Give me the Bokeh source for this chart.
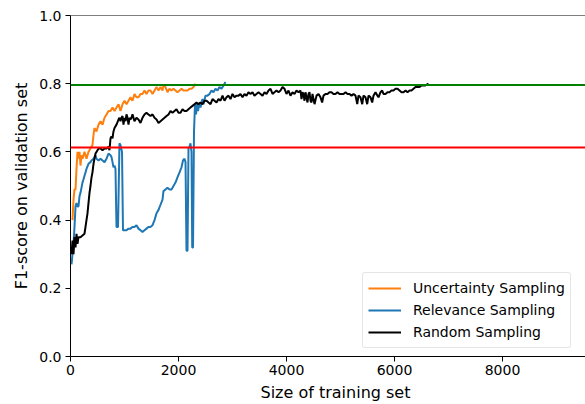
from bokeh.plotting import figure
from bokeh.models import Span, Legend, LegendItem, Range1d, FixedTicker, Title
from bokeh.embed import file_html
from bokeh.resources import INLINE

# Uncertainty sampling: training-set size vs. validation F1
unc_x = [37, 56, 74, 93, 111, 130, 148, 167, 185, 204, 222, 259, 296, 333, 370, 407,
         426, 444, 481, 519, 556, 593, 630, 667, 704, 741, 778, 815, 852, 889, 926, 963,
         1000, 1037, 1074, 1111, 1148, 1185, 1222, 1259, 1296, 1333, 1370, 1407, 1444,
         1481, 1519, 1556, 1593, 1630, 1667, 1704, 1722, 1759, 1796, 1833, 1870, 1907,
         1944, 1981, 2019, 2056, 2093, 2130, 2167, 2204, 2241, 2278, 2315]
unc_y = [0.40, 0.46, 0.49, 0.49, 0.55, 0.60, 0.58, 0.60, 0.56, 0.59, 0.58, 0.60, 0.58,
         0.60, 0.61, 0.62, 0.65, 0.67, 0.66, 0.68, 0.69, 0.68, 0.70, 0.71, 0.72, 0.72,
         0.73, 0.72, 0.73, 0.74, 0.72, 0.74, 0.75, 0.74, 0.75, 0.76, 0.75, 0.77, 0.76,
         0.76, 0.77, 0.77, 0.78, 0.77, 0.78, 0.78, 0.77, 0.78, 0.79, 0.78, 0.79, 0.78,
         0.795, 0.79, 0.775, 0.785, 0.78, 0.785, 0.78, 0.775, 0.78, 0.785, 0.78, 0.78,
         0.78, 0.785, 0.785, 0.79, 0.80]

# Relevance sampling
rel_x = [19, 37, 56, 74, 93, 111, 130, 148, 167, 185, 222, 241, 278, 296, 333, 370, 389,
         426, 463, 481, 519, 556, 593, 630, 667, 704, 741, 759, 778, 796, 815, 833, 852,
         880, 907, 926, 954, 972, 1000, 1037, 1074, 1111, 1148, 1185, 1222, 1259, 1296,
         1333, 1370, 1407, 1444, 1481, 1519, 1556, 1593, 1630, 1667, 1704, 1722, 1759,
         1796, 1833, 1870, 1907, 1944, 1981, 2019, 2056, 2083, 2111, 2130, 2148, 2167,
         2185, 2204, 2222, 2241, 2254, 2269, 2287, 2306, 2324, 2343, 2361, 2389, 2407,
         2444, 2463, 2500, 2537, 2574, 2611, 2648, 2685, 2722, 2759, 2796, 2833, 2870]
rel_y = [0.27, 0.30, 0.33, 0.38, 0.44, 0.45, 0.44, 0.44, 0.47, 0.48, 0.51, 0.52, 0.54,
         0.55, 0.565, 0.57, 0.575, 0.58, 0.59, 0.58, 0.575, 0.58, 0.575, 0.57, 0.58,
         0.595, 0.59, 0.585, 0.57, 0.555, 0.56, 0.55, 0.38, 0.38, 0.625, 0.62, 0.60,
         0.37, 0.37, 0.37, 0.375, 0.375, 0.38, 0.38, 0.385, 0.375, 0.37, 0.365, 0.37,
         0.375, 0.38, 0.38, 0.385, 0.40, 0.42, 0.43, 0.445, 0.46, 0.485, 0.49, 0.495,
         0.49, 0.49, 0.50, 0.51, 0.525, 0.54, 0.555, 0.575, 0.58, 0.57, 0.31, 0.31, 0.61,
         0.615, 0.625, 0.60, 0.32, 0.32, 0.66, 0.74, 0.71, 0.74, 0.72, 0.745, 0.73, 0.755,
         0.74, 0.765, 0.765, 0.77, 0.78, 0.775, 0.785, 0.78, 0.79, 0.785, 0.795, 0.805]

# Random sampling
rnd_x = [19, 37, 56, 74, 93, 111, 130, 148, 185, 222, 259, 278, 296, 315, 333, 352, 370,
         389, 407, 426, 444, 463, 481, 519, 556, 593, 630, 667, 704, 722, 741, 759, 778,
         796, 815, 852, 889, 907, 926, 944, 963, 981, 1000, 1019, 1037, 1056, 1074, 1093,
         1111, 1130, 1148, 1185, 1222, 1259, 1296, 1333, 1370, 1407, 1444, 1481, 1519,
         1556, 1593, 1630, 1667, 1704, 1741, 1778, 1815, 1852, 1889, 1926, 1963, 2000,
         2037, 2074, 2111, 2148, 2185, 2222, 2259, 2296, 2333, 2370, 2407, 2444, 2481,
         2519, 2556, 2593, 2630, 2667, 2704, 2741, 2778, 2815, 2852, 2889, 2926, 2963,
         3000, 3037, 3074, 3111, 3148, 3185, 3222, 3259, 3296, 3333, 3370, 3407, 3444,
         3481, 3519, 3556, 3593, 3630, 3667, 3704, 3741, 3778, 3815, 3852, 3889, 3926,
         3963, 4000, 4037, 4074, 4111, 4148, 4185, 4222, 4259, 4278, 4296, 4315, 4333,
         4352, 4370, 4389, 4407, 4426, 4444, 4463, 4481, 4519, 4556, 4593, 4630, 4660,
         4685, 4722, 4759, 4796, 4833, 4870, 4907, 4944, 4981, 5019, 5056, 5093, 5130,
         5167, 5204, 5241, 5278, 5310, 5333, 5370, 5402, 5426, 5463, 5494, 5519, 5556,
         5587, 5611, 5648, 5685, 5704, 5741, 5772, 5796, 5833, 5870, 5907, 5944, 5981,
         6019, 6056, 6093, 6130, 6167, 6204, 6241, 6278, 6315, 6352, 6389, 6426, 6463,
         6500, 6537, 6574, 6630]
rnd_y = [0.30, 0.34, 0.30, 0.35, 0.32, 0.36, 0.33, 0.35, 0.35, 0.355, 0.36, 0.38, 0.40,
         0.42, 0.45, 0.48, 0.50, 0.525, 0.54, 0.565, 0.58, 0.595, 0.60, 0.61, 0.61, 0.605,
         0.61, 0.61, 0.615, 0.605, 0.64, 0.645, 0.64, 0.66, 0.67, 0.68, 0.695, 0.70, 0.69,
         0.70, 0.705, 0.68, 0.70, 0.69, 0.71, 0.70, 0.68, 0.70, 0.695, 0.70, 0.71, 0.69,
         0.70, 0.695, 0.685, 0.70, 0.71, 0.715, 0.71, 0.705, 0.71, 0.70, 0.695, 0.685,
         0.69, 0.695, 0.70, 0.705, 0.71, 0.72, 0.715, 0.72, 0.725, 0.715, 0.715, 0.725,
         0.72, 0.72, 0.725, 0.73, 0.735, 0.74, 0.745, 0.74, 0.745, 0.74, 0.75, 0.75,
         0.745, 0.74, 0.755, 0.75, 0.745, 0.755, 0.75, 0.765, 0.75, 0.76, 0.765, 0.755,
         0.77, 0.76, 0.765, 0.765, 0.77, 0.76, 0.77, 0.765, 0.775, 0.77, 0.775, 0.765,
         0.77, 0.775, 0.77, 0.765, 0.775, 0.77, 0.78, 0.785, 0.77, 0.775, 0.78, 0.775,
         0.78, 0.79, 0.785, 0.77, 0.78, 0.765, 0.775, 0.77, 0.78, 0.775, 0.78, 0.755,
         0.775, 0.77, 0.75, 0.775, 0.76, 0.745, 0.77, 0.775, 0.75, 0.745, 0.77, 0.74,
         0.765, 0.77, 0.76, 0.745, 0.765, 0.77, 0.77, 0.775, 0.775, 0.77, 0.77, 0.775,
         0.77, 0.77, 0.77, 0.775, 0.77, 0.77, 0.765, 0.77, 0.765, 0.74, 0.765, 0.76, 0.74,
         0.765, 0.76, 0.74, 0.765, 0.76, 0.745, 0.765, 0.775, 0.765, 0.76, 0.775, 0.78,
         0.77, 0.77, 0.775, 0.775, 0.78, 0.78, 0.785, 0.785, 0.78, 0.775, 0.775, 0.78,
         0.775, 0.78, 0.78, 0.785, 0.79, 0.79, 0.79, 0.795, 0.795, 0.795, 0.80]

# Reference levels drawn across the whole axis
upper_level = 0.796
lower_level = 0.613

x_ticks = [0, 2000, 4000, 6000, 8000]
y_ticks = [0.0, 0.2, 0.4, 0.6, 0.8, 1.0]

FONT = "DejaVu Sans"

p = figure(width=585, height=404, output_backend="svg", toolbar_location=None,
           x_range=Range1d(0, 9537), y_range=Range1d(0, 1.0),
           min_border_left=70, min_border_right=0, min_border_top=15,
           min_border_bottom=0)
p.outline_line_color = None
p.grid.visible = False
p.background_fill_color = "white"
p.border_fill_color = "white"

for ax in (p.xaxis[0], p.yaxis[0]):
    ax.axis_line_color = "black"
    ax.axis_line_width = 1
    ax.major_tick_line_color = "black"
    ax.major_tick_out = 5
    ax.major_tick_in = 0
    ax.minor_tick_line_color = None
    ax.major_label_text_font = FONT
    ax.major_label_text_font_size = "14px"
    ax.major_label_text_color = "black"
    ax.axis_label_text_font = FONT
    ax.axis_label_text_font_size = "16px"
    ax.axis_label_text_font_style = "normal"
    ax.axis_label_text_color = "black"

p.xaxis.ticker = FixedTicker(ticks=x_ticks)
p.yaxis.ticker = FixedTicker(ticks=y_ticks)
p.yaxis.major_label_overrides = {t: f"{t:.1f}" for t in y_ticks}
p.xaxis.major_label_standoff = 3
p.yaxis.major_label_standoff = 4
p.yaxis.axis_label = "F1-score on validation set"
p.yaxis.axis_label_standoff = 5

# x-axis title, placed relative to the left of the frame
p.add_layout(Title(text="Size of training set", align="left", offset=190,
                   text_font=FONT, text_font_size="16px", text_font_style="normal",
                   text_color="black", standoff=6), "below")

# top spine
p.add_layout(Span(location=1.0, dimension="width", line_color="black", line_width=1))

p.add_layout(Span(location=upper_level, dimension="width", line_color="#008000", line_width=2))
p.add_layout(Span(location=lower_level, dimension="width", line_color="#ff0000", line_width=2))

r_unc = p.line(unc_x, unc_y, line_color="#ff7f0e", line_width=2)
r_rel = p.line(rel_x, rel_y, line_color="#1f77b4", line_width=2)
r_rnd = p.line(rnd_x, rnd_y, line_color="black", line_width=2)

legend = Legend(items=[LegendItem(label="Uncertainty Sampling", renderers=[r_unc]),
                       LegendItem(label="Relevance Sampling", renderers=[r_rel]),
                       LegendItem(label="Random Sampling", renderers=[r_rnd])],
                location=(292, 8), orientation="vertical",
                label_text_font=FONT, label_text_font_size="14px",
                label_text_color="black",
                glyph_width=33, glyph_height=20, label_height=20,
                label_standoff=12, spacing=2, padding=5, margin=0,
                border_line_color="#cccccc", border_line_width=1,
                border_radius=3,
                background_fill_color="white", background_fill_alpha=0.8)
p.add_layout(legend)

open("out.html", "w").write(file_html(p, INLINE))
